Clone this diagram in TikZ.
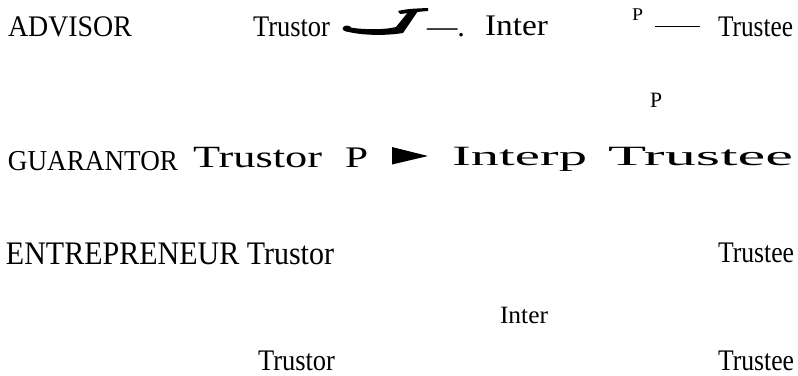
\documentclass[tikz,border=0pt]{standalone}
\usepackage{fontspec}
\usepackage{graphicx}
\setmainfont{Liberation Serif}
\newcommand{\mytxt}[3]{\resizebox{#1bp}{\height}{\fontsize{#2}{#2}\selectfont #3}}
\tikzset{lbl/.style={anchor=base west, inner sep=0pt, outer sep=0pt, text=black}}
\begin{document}
\begin{tikzpicture}[x=1bp, y=-1bp]
\useasboundingbox[fill=white] (0,0) rectangle (798,375);
% Row 1
\node[lbl] (advisor) at (8,36) {\mytxt{124}{30}{ADVISOR}};
\node[lbl] (trustorA) at (253,36) {\mytxt{77}{30}{Trustor}};
% swoosh J
\fill (347,28.5) ellipse [x radius=4.5, y radius=3];
\fill (345,26.5) .. controls (360,30) and (385,30) .. (396,27)
      -- (409,11) -- (418,11) -- (403,33)
      .. controls (385,36) and (360,35.5) .. (345,31) -- cycle;
\fill (398,11) .. controls (408,8.5) and (418,8.5) .. (428,8)
      -- (428,11) .. controls (420,11.5) and (410,13) .. (400,14) -- cycle;
\node[lbl] (dashdot) at (427,36) {\mytxt{38}{30}{—.}};
\node[lbl] (interA) at (485,35) {\mytxt{63}{30}{Inter}};
\node[lbl] (psmall) at (632,20) {\mytxt{11}{18}{P}};
\coordinate (la) at (655,26);
\coordinate (lb) at (700,26);
\draw[line width=0.9bp] (la) -- (lb);
\node[lbl] (trusteeA) at (718,36) {\mytxt{75}{30}{Trustee}};
% Row 2
\node[lbl] (pmid) at (650,107) {\mytxt{12}{22}{P}};
% Row 3
\node[lbl] (guarantor) at (8,170) {\mytxt{170}{29}{GUARANTOR}};
\node[lbl] (trustorB) at (193,167) {\mytxt{129}{31}{Trustor}};
\node[lbl] (pB) at (345,167) {\mytxt{23}{30}{P}};
\fill (392,147) -- (392,164.5) -- (428,156) -- cycle;
\node[lbl] (interp) at (452,165) {\mytxt{135}{28}{Interp}};
\node[lbl] (trusteeB) at (608,165) {\mytxt{185}{28}{Trustee}};
% Row 4
\node[lbl] (entre) at (6,264) {\mytxt{328}{33}{ENTREPRENEUR Trustor}};
\node[lbl] (trusteeC) at (718,262) {\mytxt{76}{30}{Trustee}};
% Row 5
\node[lbl] (interC) at (500,323) {\mytxt{48}{25}{Inter}};
% Row 6
\node[lbl] (trustorD) at (258,370) {\mytxt{77}{30}{Trustor}};
\node[lbl] (trusteeD) at (718,370) {\mytxt{76}{30}{Trustee}};
\end{tikzpicture}
\end{document}
